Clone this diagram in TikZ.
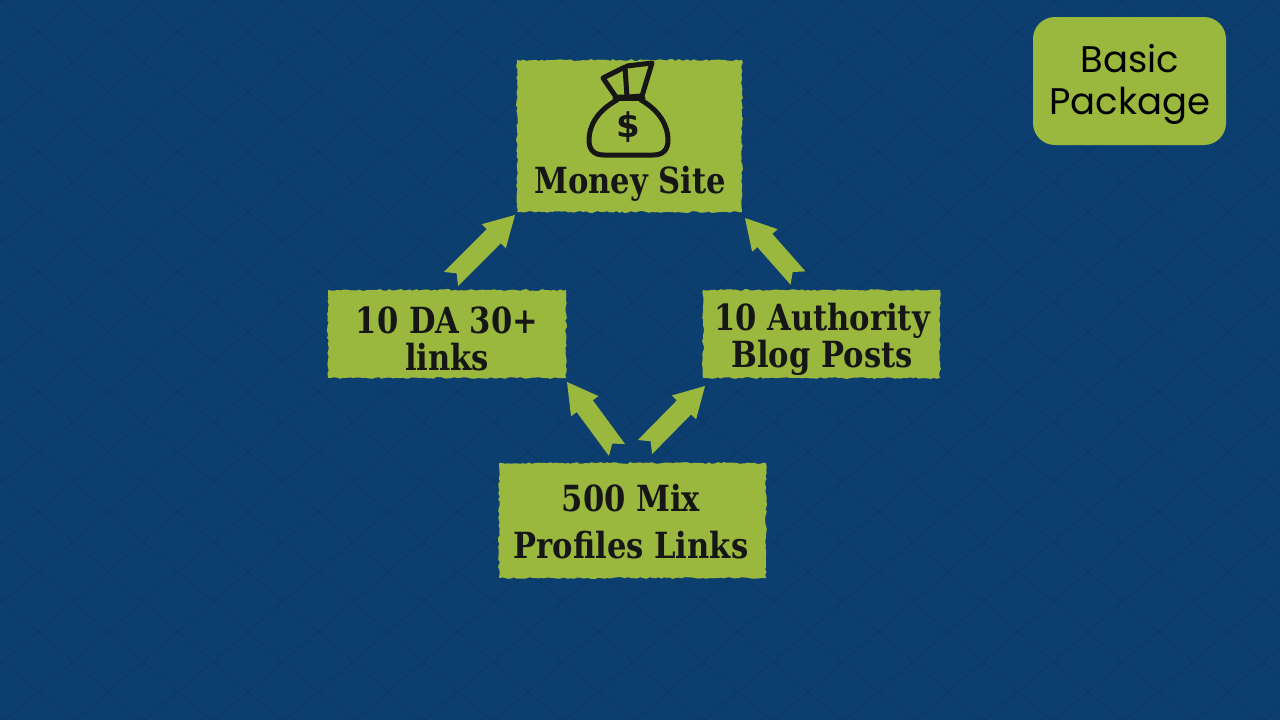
\documentclass[tikz,border=0pt]{standalone}
\usepackage{fontspec}
\usetikzlibrary{calc,decorations.pathmorphing}
\newfontfamily\labfont[FakeStretch=0.85]{DejaVu Serif}
\newfontfamily\pkgfont{Poppins}
\newfontfamily\iconfont{DejaVu Sans}
\definecolor{bgblue}{HTML}{0C3E6F}
\definecolor{bgline}{HTML}{0B3A69}
\definecolor{leaf}{HTML}{9BB83E}
\definecolor{ink}{HTML}{161616}
\newcommand\bigarrow[2]{%
  \fill[leaf]
    ($(#1)!10pt!90:(#2)$) --
    ($($(#2)!30pt!(#1)$)!10pt!-90:(#1)$) --
    ($($(#2)!30pt!(#1)$)!17pt!-90:(#1)$) --
    (#2) --
    ($($(#2)!30pt!(#1)$)!17pt!90:(#1)$) --
    ($($(#2)!30pt!(#1)$)!10pt!90:(#1)$) --
    ($(#1)!10pt!-90:(#2)$) --
    ($(#1)!8pt!(#2)$) -- cycle;}
\begin{document}
\begin{tikzpicture}[x=1pt,y=-1pt,
  roughbox/.style={fill=leaf, inner sep=0pt, decorate,
    decoration={random steps, segment length=3pt, amplitude=0.9pt},
    text=ink, align=center},
  labtext/.style={font=\labfont\bfseries\fontsize{36}{37}\selectfont},
  pkgbox/.style={fill=leaf, rounded corners=22pt, inner sep=0pt, text=black,
    align=center, font=\pkgfont\fontsize{37}{42}\selectfont},
  bagline/.style={line width=5pt, draw=ink, line join=round, line cap=round}]
\pgfmathsetseed{7}
% background
\fill[bgblue] (0,0) rectangle (1280,720);
\useasboundingbox (0,0) rectangle (1280,720);
\begin{scope}
\clip (0,0) rectangle (1280,720);
\begin{scope}[yscale=0.857143]
\foreach \c in {-905,-835,...,2150} {
  \draw[bgline, line width=1.5pt] (\c,0) -- ++(-900,900);
  \draw[bgline, line width=1.5pt] (\c-4,0) -- ++(900,900);
}
\end{scope}
\end{scope}
% boxes
\node[roughbox, minimum width=225pt, minimum height=152pt] (money) at (629.5,136) {};
\node[roughbox, minimum width=238pt, minimum height=88pt] (da) at (447,334) {};
\node[roughbox, minimum width=237pt, minimum height=88pt] (auth) at (821.5,334) {};
\node[roughbox, minimum width=267pt, minimum height=115pt] (mix) at (632.5,520.5) {};
\node[pkgbox, minimum width=193pt, minimum height=128pt] (pkg) at (1129.5,81) {};
% labels
\node[labtext, text=ink, align=center, inner sep=0pt] (datext) at (447,339) {10 DA 30+\\links};
\node[labtext, text=ink, align=center, inner sep=0pt] (authtext) at (822,339) {10 Authority\\Blog Posts};
\node[font=\labfont\bfseries\fontsize{36}{47}\selectfont, text=ink, align=center, inner sep=0pt] (mixtext) at (631,522) {500 Mix\\Profiles Links};
\node[text=black, align=center, inner sep=0pt, font=\pkgfont\fontsize{37}{42}\selectfont] (pkgtext) at (1130,84) {Basic\\Package};
\node[labtext, text=ink, anchor=base, inner sep=0pt] (moneytext) at (630,193) {Money Site};
% money bag icon
\draw[bagline] (603,78) -- (625,67) -- (627,97) -- (616,97) -- cycle;
\draw[bagline] (627,66) -- (652,63) -- (642,96) -- (628,97);
\draw[bagline] (615,98) -- (643,98);
\draw[bagline] (617,100) .. controls (597,111) and (589,126) .. (589,140)
  .. controls (589,150) and (594,155) .. (604,155) -- (653,155)
  .. controls (663,155) and (668,150) .. (668,140)
  .. controls (668,126) and (660,111) .. (641,100);
\node[font=\iconfont\bfseries\fontsize{34}{34}\selectfont, text=ink, inner sep=0pt] (dollar) at (628,127) {\$};
% arrows
\coordinate (a1t) at (451,279); \coordinate (a1h) at (515,215);
\coordinate (a2t) at (798,278); \coordinate (a2h) at (745,218);
\coordinate (a3t) at (617,450); \coordinate (a3h) at (567,382);
\coordinate (a4t) at (645,447); \coordinate (a4h) at (705,386);
\bigarrow{a1t}{a1h}
\bigarrow{a2t}{a2h}
\bigarrow{a3t}{a3h}
\bigarrow{a4t}{a4h}
\end{tikzpicture}
\end{document}
